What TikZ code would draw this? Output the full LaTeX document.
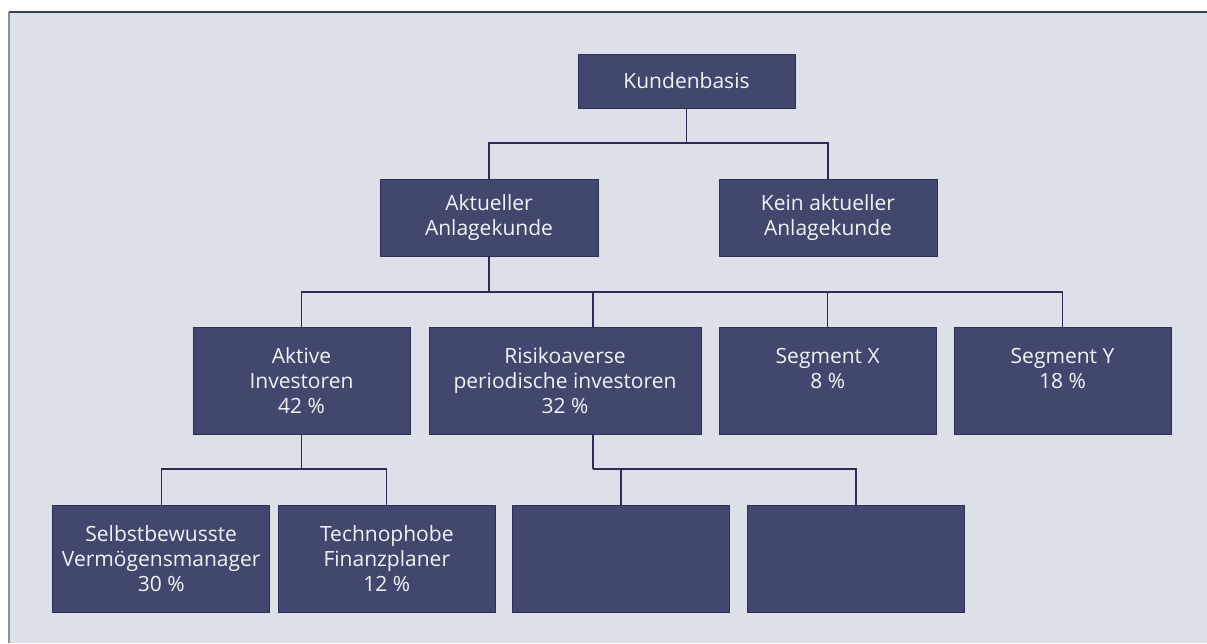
\documentclass[tikz,border=0pt]{standalone}
\usepackage{fontspec}
\setmainfont{Open Sans}
\definecolor{bgc}{HTML}{DCE0E9}
\definecolor{boxc}{HTML}{42476E}
\definecolor{boxb}{HTML}{2E3058}
\definecolor{linec}{HTML}{2B2D55}
\definecolor{topc}{HTML}{3D4055}
\definecolor{leftc}{HTML}{8A8E9E}
\definecolor{txtc}{HTML}{F2F3F7}
\begin{document}
\begin{tikzpicture}[x=1pt,y=-1pt,
  box/.style={draw=boxb,fill=boxc,line width=0.9pt,minimum width=217pt,minimum height=107pt,
    inner sep=0pt,align=center,text=txtc,font=\fontsize{21}{25}\selectfont},
  conn/.style={draw=linec,line width=1.2pt}]
\useasboundingbox (0,0) rectangle (1207,643);
\fill[bgc] (9,12) rectangle (1207,643);
\draw[leftc,line width=1.5pt] (9,12) -- (9,643);
\draw[topc,line width=1.6pt] (9,12) -- (1207,12);
% nodes
\node[box,minimum height=54pt] (kb) at (686.5,81) {Kundenbasis};
\node[box,minimum height=77pt,minimum width=218pt] (akt) at (489,217.5) {Aktueller\\Anlagekunde};
\node[box,minimum height=77pt,minimum width=218pt] (kein) at (828,217.5) {Kein aktueller\\Anlagekunde};
\node[box] (aktiv) at (301.5,380.5) {Aktive\\Investoren\\42 \%};
\node[box,minimum width=272pt] (ris) at (565,380.5) {Risikoaverse\\periodische investoren\\32 \%};
\node[box] (segx) at (827.7,380.5) {Segment X\\8 \%\\\phantom{0}};
\node[box] (segy) at (1062.5,380.5) {Segment Y\\18 \%\\\phantom{0}};
\node[box] (selbst) at (161.2,558.5) {Selbstbewusste\\Vermögensmanager\\30 \%};
\node[box] (techno) at (386.8,558.5) {Technophobe\\Finanzplaner\\12 \%};
\node[box] (e1) at (621,558.5) {};
\node[box] (e2) at (856,558.5) {};
% junctions
\coordinate (j1) at (686.5,143);
\coordinate (j2) at (489,292);
\coordinate (j3) at (301.5,469);
\coordinate (rs) at (593,434);
\coordinate (j4) at (593,469);
% connectors
\draw[conn] (kb.south) -- (j1);
\draw[conn] (akt.north) |- (j1) -| (kein.north);
\draw[conn] (akt.south) -- (j2);
\draw[conn] (aktiv.north) |- (j2) -| (segy.north);
\draw[conn] (ris.north -| rs) |- (j2);
\draw[conn] (segx.north) |- (j2);
\draw[conn] (aktiv.south) -- (j3);
\draw[conn] (selbst.north) |- (j3) -| (techno.north);
\draw[conn] (rs) -- (j4);
\draw[conn] (e1.north) |- (j4) -| (e2.north);
\end{tikzpicture}
\end{document}
